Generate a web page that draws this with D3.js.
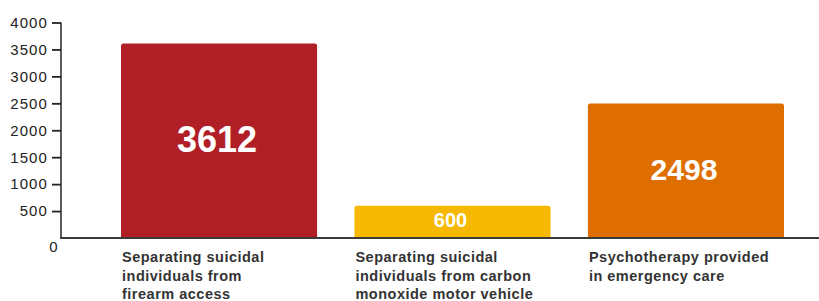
<!DOCTYPE html>
<html>
<head>
<meta charset="utf-8">
<script src="https://cdn.jsdelivr.net/npm/d3@7"></script>
<style>
  body { margin: 0; background: #fff; }
  svg { display: block; }
</style>
</head>
<body>
<div id="chart-area"></div>
<script>
// datos
var categorias = ["firearm", "carbon", "psycho"];
var valores = [3612, 600, 2498];
var etiquetas = [
    ["Separating suicidal", "individuals from", "firearm access"],
    ["Separating suicidal", "individuals from carbon", "monoxide motor vehicle"],
    ["Psychotherapy provided", "in emergency care"]
];
var colores = ["#b11f26", "#f6b800", "#de6e00"];
var ticksY = [0, 500, 1000, 1500, 2000, 2500, 3000, 3500, 4000];

var width = 819, height = 301;
var baseY = 238, topY = 22.5, axisX = 61;

var svg = d3.select("#chart-area")
    .append("svg")
        .attr("width", width)
        .attr("height", height);

var y = d3.scaleLinear()
    .domain([0, 4000])
    .range([baseY, topY]);

var x = d3.scaleBand()
    .domain(categorias)
    .range([121, 784])
    .paddingInner(0.16)
    .paddingOuter(0);

// tamaño de la etiqueta segun el valor
var fontSize = d3.scaleLinear()
    .domain([600, 3612])
    .range([20, 36]);

// barras con esquinas superiores redondeadas
function barPath(x0, y0, w, h, r) {
    return "M" + x0 + "," + (y0 + h) +
        "V" + (y0 + r) +
        "Q" + x0 + "," + y0 + " " + (x0 + r) + "," + y0 +
        "H" + (x0 + w - r) +
        "Q" + (x0 + w) + "," + y0 + " " + (x0 + w) + "," + (y0 + r) +
        "V" + (y0 + h) + "Z";
}

var datos = categorias.map(function(c, i) {
    return { cat: c, valor: valores[i], color: colores[i], lineas: etiquetas[i] };
});

svg.selectAll("path.bar")
    .data(datos)
    .join("path")
        .attr("class", "bar")
        .attr("fill", d => d.color)
        .attr("d", d => barPath(x(d.cat), y(d.valor), x.bandwidth(), baseY - y(d.valor), 2.5));

svg.selectAll("text.valor")
    .data(datos)
    .join("text")
        .attr("class", "valor")
        .attr("x", d => x(d.cat) + x.bandwidth() / 2 - 2)
        .attr("y", d => (y(d.valor) + baseY) / 2 - 2)
        .attr("dy", "0.36em")
        .attr("text-anchor", "middle")
        .attr("fill", "#fff")
        .style("font-family", "'Liberation Sans', Arial, sans-serif")
        .style("font-weight", "bold")
        .style("font-size", d => fontSize(d.valor) + "px")
        .text(d => d.valor);

// eje y
var yAxis = d3.axisLeft(y)
    .tickValues(ticksY.filter(t => t > 0))
    .tickFormat(d3.format("d"))
    .tickSize(9)
    .tickPadding(4);

var gy = svg.append("g")
    .attr("transform", "translate(" + axisX + ",0)")
    .call(yAxis);

gy.select(".domain")
    .attr("d", "M0," + topY + "V" + baseY)
    .attr("stroke", "#333")
    .attr("stroke-width", 1.6);
gy.selectAll(".tick line")
    .attr("stroke", "#222")
    .attr("stroke-width", 1.8);
gy.selectAll(".tick text")
    .attr("fill", "#222")
    .style("font-family", "'Liberation Sans', Arial, sans-serif")
    .style("font-size", "15px")
    .style("letter-spacing", "1.1px");

svg.append("text")
    .attr("x", 53.5)
    .attr("y", 251.5)
    .attr("text-anchor", "middle")
    .attr("fill", "#222")
    .style("font-family", "'Liberation Sans', Arial, sans-serif")
    .style("font-size", "15px")
    .text(ticksY[0]);

// eje x
svg.append("line")
    .attr("x1", axisX - 0.8)
    .attr("x2", width)
    .attr("y1", baseY)
    .attr("y2", baseY)
    .attr("stroke", "#3a3a3a")
    .attr("stroke-width", 2);

var labels = svg.selectAll("text.cat")
    .data(datos)
    .join("text")
        .attr("class", "cat")
        .attr("x", d => x(d.cat) + 1)
        .attr("y", 262)
        .attr("fill", "#333")
        .style("font-family", "'Liberation Sans', Arial, sans-serif")
        .style("font-weight", "bold")
        .style("font-size", "14.5px")
        .style("letter-spacing", "0.5px");

labels.selectAll("tspan")
    .data(d => d.lineas.map(l => ({ l: l, x: x(d.cat) + 1 })))
    .join("tspan")
        .attr("x", t => t.x)
        .attr("dy", (t, i) => i === 0 ? 0 : 18.5)
        .text(t => t.l);
</script>
</body>
</html>
